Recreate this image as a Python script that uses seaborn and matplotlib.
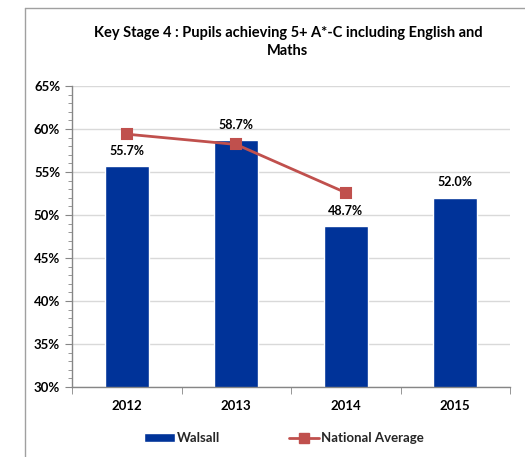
import numpy as np
import pandas as pd
import seaborn as sns
import matplotlib.pyplot as plt
from matplotlib.lines import Line2D
from matplotlib.patches import Patch
from matplotlib.ticker import MultipleLocator, FuncFormatter

years = ["2012", "2013", "2014", "2015"]
walsall = [55.7, 58.7, 48.7, 52.0]
national = [59.4, 58.2, 52.6, np.nan]

bar_col = "#003399"
line_col = "#C0504D"

sns.set_style("white")
plt.rcParams['font.family'] = ['Lato', 'DejaVu Sans']

W, H = 525, 457
fig = plt.figure(figsize=(W / 100, H / 100), dpi=100)
ax = fig.add_axes([72 / W, 1 - 387 / H, (510 - 72) / W, (387 - 86) / H])

df = pd.DataFrame({"year": years, "Walsall": walsall, "National": national})

sns.barplot(data=df, x="year", y="Walsall", order=years, color=bar_col,
            width=0.4, saturation=1, ax=ax, zorder=2)
sns.pointplot(data=df.dropna(), x="year", y="National", order=years, color=line_col,
              markers="s", markersize=7, linewidth=2, ax=ax, zorder=3)

for i, v in enumerate(walsall):
    ax.text(i, v + 1.1, f"{v:.1f}%", ha="center", va="bottom",
            fontsize=9, fontweight="bold", color="black")

ax.set_ylim(30, 65)
ax.set_xlim(-0.5, 3.5)
ax.yaxis.set_major_locator(MultipleLocator(5))
ax.yaxis.set_minor_locator(MultipleLocator(1))
ax.yaxis.set_major_formatter(FuncFormatter(lambda v, p: f"{v:.0f}%"))
ax.grid(axis="y", color="#D9D9D9", linewidth=1, zorder=0)
ax.set_axisbelow(True)
ax.set_xlabel("")
ax.set_ylabel("")

for s in ["top", "right"]:
    ax.spines[s].set_visible(False)
for s in ["left", "bottom"]:
    ax.spines[s].set_color("#868686")
    ax.spines[s].set_linewidth(1)

ax.tick_params(axis="y", which="both", left=True, direction="out", color="#868686",
               labelsize=9.5, labelcolor="black")
ax.tick_params(axis="y", which="major", length=5)
ax.tick_params(axis="y", which="minor", length=3)
ax.tick_params(axis="x", length=0, labelsize=9.5, pad=9, labelcolor="black")
for lab in ax.get_yticklabels() + ax.get_xticklabels():
    lab.set_fontweight("bold")
# x ticks between categories
ax.set_xticks([-0.5, 0.5, 1.5, 2.5, 3.5], minor=True)
ax.tick_params(axis="x", which="minor", bottom=True, length=5, color="#868686")

fig.suptitle("Key Stage 4 : Pupils achieving 5+ A*-C including English and\nMaths",
             x=288 / W, y=1 - 26 / H, fontsize=10.5, fontweight="bold", va="top",
             linespacing=1.35, color="black")

handles = [Patch(facecolor=bar_col, label="Walsall"),
           Line2D([0], [0], color=line_col, lw=2, marker="s", markersize=7,
                  label="National Average")]
leg = fig.legend(handles=handles, loc="center", bbox_to_anchor=(284 / W, 1 - 438 / H),
                 ncol=2, frameon=False, prop={"weight": "bold", "size": 9.5},
                 handlelength=2.3, handleheight=0.6, handletextpad=0.15,
                 columnspacing=5.2)

# outer chart frame (cropped on right/bottom)
fig.add_artist(Line2D([25 / W, 25 / W], [0, 1 - 8 / H], color="#A0A0A0", lw=1))
fig.add_artist(Line2D([25 / W, 1], [1 - 8 / H, 1 - 8 / H], color="#A0A0A0", lw=1))

fig.savefig("out.png", dpi=100)
